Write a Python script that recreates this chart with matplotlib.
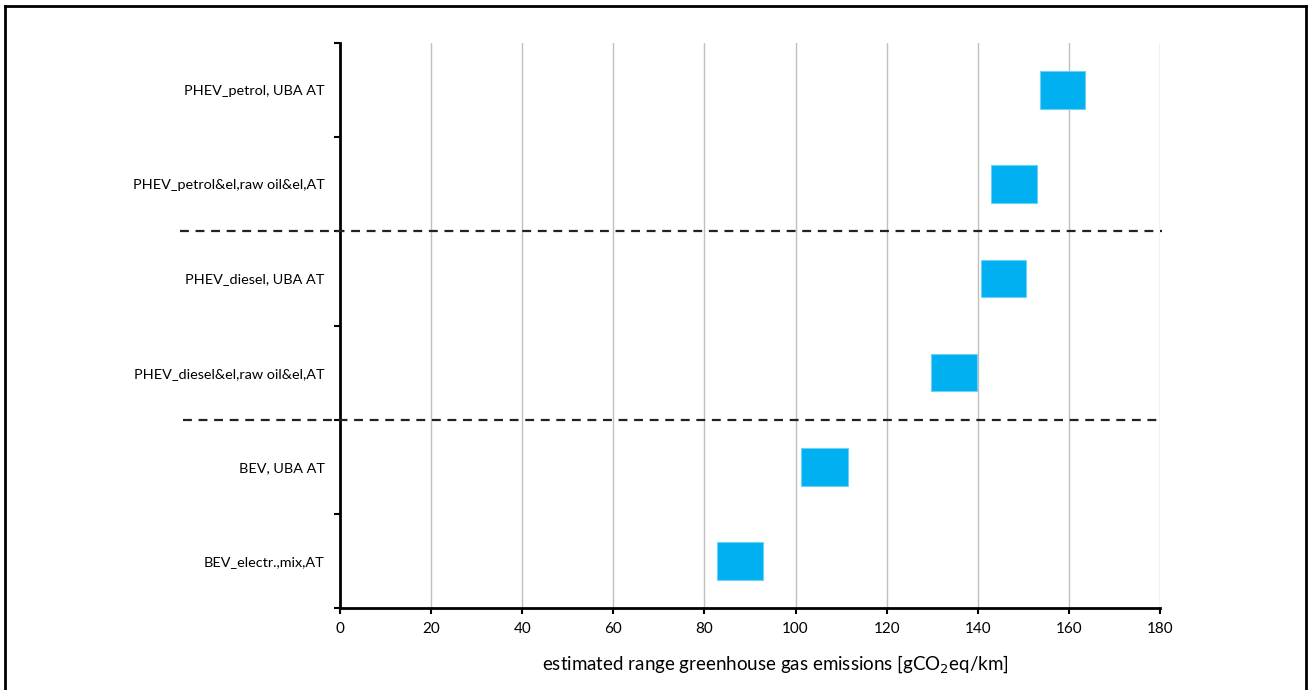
import matplotlib.pyplot as plt
from matplotlib.lines import Line2D
import matplotlib.transforms as mtransforms

plt.rcParams['font.family'] = ['Lato', 'DejaVu Sans']

# Daten (von unten nach oben)
labels = ["BEV_electr.,mix,AT", "BEV, UBA AT", "PHEV_diesel&el,raw oil&el,AT",
          "PHEV_diesel, UBA AT", "PHEV_petrol&el,raw oil&el,AT", "PHEV_petrol, UBA AT"]
low = [82.8, 101.3, 129.8, 140.6, 143.0, 153.7]
high = [92.8, 111.5, 139.8, 150.5, 152.9, 163.5]
xticks = [0, 20, 40, 60, 80, 100, 120, 140, 160, 180]
group_lines = [2, 4]

fig = plt.figure(figsize=(13.11, 6.9), dpi=100)
ax = fig.add_axes([340 / 1311, 1 - 608 / 690, 820 / 1311, 565 / 690])

ypos = [i + 0.5 for i in range(len(labels))]
widths = [h - l for l, h in zip(low, high)]
ax.barh(ypos, widths, left=low, height=0.4, color='#00B0F0',
        edgecolor='#6FD0F5', linewidth=0.8, zorder=3)

ax.set_xlim(0, 180)
ax.set_ylim(0, 6)
ax.set_xticks(xticks)
ax.set_yticks(range(7))
ax.set_yticklabels([])
ax.set_yticks(ypos, minor=True)
ax.set_yticklabels(labels, minor=True, fontsize=10.4)
ax.tick_params(axis='y', which='minor', length=0, pad=11)
ax.tick_params(axis='y', which='major', length=4, width=1.5, direction='out')
ax.tick_params(axis='x', length=4, width=1.5, labelsize=11, pad=6)

ax.grid(axis='x', color='#BFBFBF', linewidth=1, zorder=0)
for s in ['top', 'right']:
    ax.spines[s].set_visible(False)
for s in ['left', 'bottom']:
    ax.spines[s].set_linewidth(2)
    ax.spines[s].set_zorder(4)

ax.set_xlabel("estimated range greenhouse gas emissions [gCO$_2$eq/km]",
              fontsize=13.5)
ax.xaxis.set_label_coords((775 - 340) / 820, -0.08)

# gestrichelte Trennlinien
trans = mtransforms.blended_transform_factory(ax.transAxes, ax.transData)
for y, x0 in zip(group_lines, [-0.191, -0.195]):
    ax.plot([x0, 1.002], [y, y], transform=trans, color='#222222',
            linestyle=(0, (4, 3)), linewidth=1.6, clip_on=False, zorder=5)

# Rahmen (unten offen)
W, H = 1311, 690
for xs, ys in [([5, 5], [690, 6]), ([5, 1306], [6, 6]), ([1306, 1306], [6, 690])]:
    fig.add_artist(Line2D([x / W for x in xs], [1 - y / H for y in ys],
                          transform=fig.transFigure, color='black', linewidth=2))

fig.savefig("out.png", dpi=100)
